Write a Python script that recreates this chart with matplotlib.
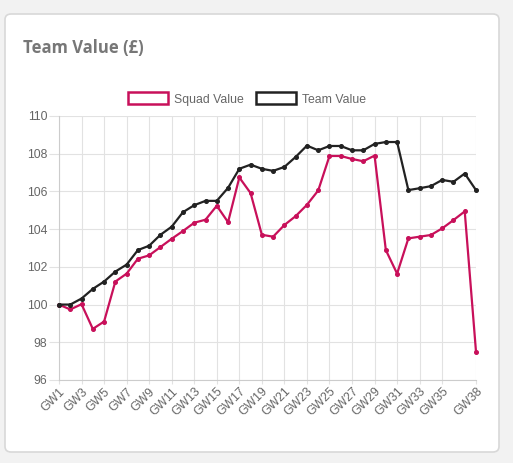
import matplotlib
matplotlib.use('Agg')
import matplotlib.pyplot as plt
from matplotlib.patches import FancyBboxPatch, Patch

gameweeks = [f'GW{i}' for i in range(1, 39)]

squad_value = [100.0, 99.74, 100.02, 98.71, 99.10, 101.22, 101.64, 102.43, 102.61, 103.05,
               103.49, 103.90, 104.34, 104.50, 105.24, 104.37, 106.74, 105.91, 103.70, 103.60,
               104.22, 104.69, 105.29, 106.05, 107.88, 107.88, 107.72, 107.60, 107.90, 102.89,
               101.64, 103.51, 103.60, 103.69, 104.04, 104.48, 104.94, 97.50]

team_value = [100.0, 100.0, 100.32, 100.83, 101.22, 101.75, 102.12, 102.89, 103.12, 103.70,
              104.13, 104.90, 105.27, 105.50, 105.50, 106.19, 107.20, 107.42, 107.20, 107.09,
              107.30, 107.83, 108.43, 108.18, 108.41, 108.41, 108.18, 108.18, 108.52, 108.62,
              108.62, 106.07, 106.17, 106.28, 106.61, 106.51, 106.95, 106.07]

y_ticks = [96, 98, 100, 102, 104, 106, 108, 110]

squad_color = '#c8105a'
team_color = '#222222'
grid_color = '#e2e2e2'
label_color = '#666666'

plt.rcParams['font.family'] = ['Liberation Sans', 'DejaVu Sans']

fig = plt.figure(figsize=(5.13, 4.63), dpi=100)
fig.patch.set_facecolor('#f2f2f2')

# white card behind the chart
card = FancyBboxPatch((5 / 513, 1 - 452 / 463), 494 / 513, 438 / 463,
                      boxstyle='round,pad=0,rounding_size=0.012',
                      transform=fig.transFigure, facecolor='white',
                      edgecolor='#d8d8d8', linewidth=1.2, zorder=-10)
fig.patches.append(card)

fig.text(23 / 513, 1 - 48 / 463, 'Team Value (£)', fontsize=12, fontweight='bold',
         color='#777777', family=['Open Sans', 'DejaVu Sans'], va='center', ha='left')

ax = fig.add_axes([59 / 513, 1 - 380 / 463, 417 / 513, 264 / 463])
ax.set_facecolor('none')

x = list(range(len(gameweeks)))
ax.plot(x, squad_value, color=squad_color, linewidth=1.6, marker='o', markersize=2.6,
        label='Squad Value', zorder=3, clip_on=False)
ax.plot(x, team_value, color=team_color, linewidth=1.6, marker='o', markersize=2.6,
        label='Team Value', zorder=3, clip_on=False)

ax.set_xlim(0, len(gameweeks) - 1)
ax.set_ylim(96, 110)
ax.set_yticks(y_ticks)
ax.set_yticklabels([str(t) for t in y_ticks])

tick_idx = list(range(0, 35, 2)) + [len(gameweeks) - 1]
ax.set_xticks(tick_idx)
ax.set_xticklabels([gameweeks[i] for i in tick_idx], rotation=45, ha='right', va='top',
                   rotation_mode='anchor')

ax.grid(True, color=grid_color, linewidth=0.8)
ax.set_axisbelow(True)
for side in ['top', 'right']:
    ax.spines[side].set_visible(False)
for side in ['left', 'bottom']:
    ax.spines[side].set_color('#cccccc')
    ax.spines[side].set_linewidth(0.8)

ax.tick_params(axis='y', length=7, width=0.8, color=grid_color, labelcolor=label_color,
               labelsize=8.8, pad=1.5)
ax.tick_params(axis='x', length=3, width=0.8, color=grid_color, labelcolor=label_color,
               labelsize=8.8, pad=1)

handles = [Patch(facecolor='white', edgecolor=squad_color, linewidth=1.8, label='Squad Value'),
           Patch(facecolor='white', edgecolor=team_color, linewidth=1.8, label='Team Value')]
fig.legend(handles=handles, loc='center', bbox_to_anchor=(247 / 513, 1 - 99 / 463), ncol=2,
           frameon=False, fontsize=8.8, handlelength=3.3, handleheight=1.1,
           handletextpad=0.5, columnspacing=1.0, labelcolor=label_color)

fig.savefig('out.png', dpi=100, facecolor=fig.get_facecolor())
